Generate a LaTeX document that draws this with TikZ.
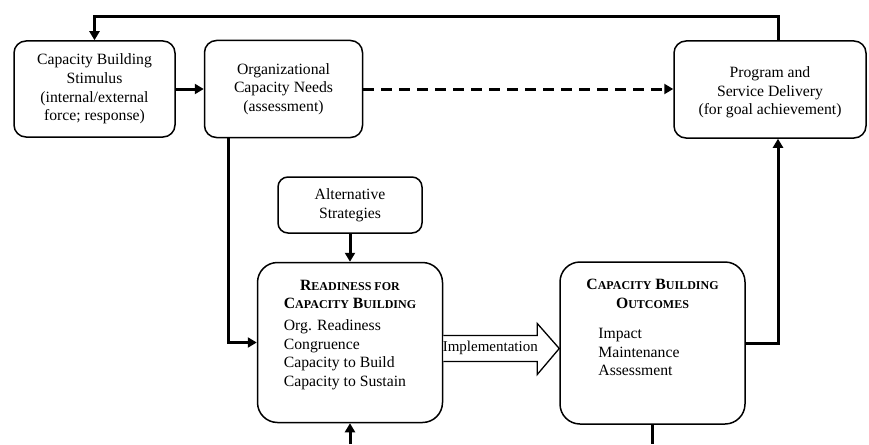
\documentclass[tikz,border=0pt]{standalone}
\usepackage{fontspec}
\setmainfont{Liberation Serif}
\usetikzlibrary{arrows.meta, positioning, calc}

\newcommand{\fakesc}[2]{#1{\fontsize{12}{14}\selectfont #2}}

\begin{document}
\begin{tikzpicture}[x=1pt, y=-1pt, node distance=28pt, >={Triangle[length=9pt,width=10pt]},
  box/.style={draw, line width=1.5pt, rounded corners=12pt, align=center, inner sep=0pt, font=\fontsize{15.7}{18.6}\selectfont},
  link/.style={->, line width=3pt}]
\useasboundingbox (0,0) rectangle (869,444);

\node[box, minimum width=161pt, minimum height=96pt] (stimulus) at (94.5,89) {Capacity Building\\Stimulus\\(internal/external\\force; response)};
\node[box, minimum width=158pt, minimum height=97pt, right=of stimulus] (needs) {Organizational\\Capacity Needs\\(assessment)};
\node[box, minimum width=192pt, minimum height=97pt] (delivery) at (770,89.5) {\\[-2pt]Program and\\Service Delivery\\(for goal achievement)};
\node[box, minimum width=144pt, minimum height=56pt, rounded corners=10pt] (alternatives) at (350,205) {Alternative\\Strategies};
\node[box, minimum width=185pt, minimum height=160pt, rounded corners=20pt, below=of alternatives] (readiness) {%
  \begin{tabular}{@{}l@{}}
  \multicolumn{1}{@{}c@{}}{\textbf{\fakesc{R}{EADINESS FOR}}}\\
  \multicolumn{1}{@{}c@{}}{\textbf{\fakesc{C}{APACITY} \fakesc{B}{UILDING}}}\\[3pt]
  Org. Readiness\\
  Congruence\\
  Capacity to Build\\
  Capacity to Sustain\\[16pt]
  \end{tabular}};
\node[box, minimum width=185pt, minimum height=162pt, rounded corners=20pt] (outcomes) at (652.5,343) {%
  \begin{tabular}{@{}l@{}}
  \multicolumn{1}{@{}c@{}}{\textbf{\fakesc{C}{APACITY} \fakesc{B}{UILDING}}}\\
  \multicolumn{1}{@{}c@{}}{\textbf{\fakesc{O}{UTCOMES}}}\\[12pt]
  \hspace*{12pt}Impact\\
  \hspace*{12pt}Maintenance\\
  \hspace*{12pt}Assessment\\[28pt]
  \end{tabular}};

% feedback loop and main flow
\draw[link] ([xshift=8pt]delivery.north) |- ([yshift=24pt]stimulus.north) -- (stimulus.north);
\draw[link] (stimulus.east) -- (stimulus.east -| needs.west);
\draw[link, dash pattern=on 11pt off 7pt] (needs.east) -- (needs.east -| delivery.west);
\draw[link] ([xshift=25pt]needs.south west) |- (readiness.west);
\draw[link] (alternatives) -- (readiness);
\coordinate (infeed) at (readiness.south |- 0,444);
\draw[link] (infeed) -- (readiness.south);
\coordinate (outfeed) at (outcomes.south |- 0,444);
\draw[line width=3pt] (outcomes.south) -- (outfeed);
\draw[link] (outcomes.east) -| ([xshift=8pt]delivery.south);

% implementation arrow
\coordinate (tail) at ($(readiness.east)+(0,6)$);
\coordinate (tip) at (outcomes.west |- tail);
\draw[line width=1.3pt, fill=white] ($(tail)+(0,-13)$) -- ($(tip)+(-22,-13)$) -- ($(tip)+(-22,-25)$) -- (tip)
  -- ($(tip)+(-22,26)$) -- ($(tip)+(-22,13)$) -- ($(tail)+(0,13)$);
\node[font=\fontsize{15}{17}\selectfont, inner sep=0pt] (impl) at ($(tail)!0.5!(tip)+(-11,-1)$) {Implementation};
\end{tikzpicture}
\end{document}
